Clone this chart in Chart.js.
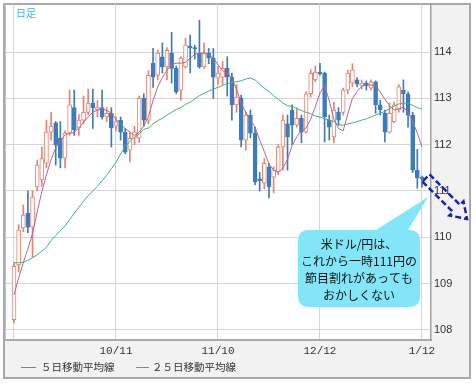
<!DOCTYPE html>
<html><head><meta charset="utf-8">
<script src="https://cdn.jsdelivr.net/npm/chart.js@4/dist/chart.umd.min.js"></script>
<style>html,body{margin:0;padding:0;background:#fff}canvas{display:block}</style>
</head><body>
<canvas id="c" width="476" height="386"></canvas>
<script>
// ---- data (USD/JPY daily) ----
const tickIndex  = [0, 22, 44, 66, 88];
const tickLabels = ['', '10/11', '11/10', '12/12', '1/12'];
const yTicks = [108, 109, 110, 111, 112, 113, 114];

const opens = [108.22,109.40,110.20,110.52,110.22,111.09,111.24,111.60,112.27,112.47,
112.14,111.71,112.25,112.80,112.36,112.53,112.70,112.90,112.75,112.80,
112.60,112.68,112.40,112.53,112.27,111.88,112.14,112.14,113.00,112.53,
113.76,113.50,113.90,113.68,113.98,113.65,113.18,113.68,114.13,114.10,
113.98,113.68,113.98,113.87,113.44,113.46,113.65,113.46,112.86,113.00,
112.10,112.64,112.25,111.26,111.17,111.52,111.30,111.41,111.95,112.45,
112.75,112.42,112.57,112.27,113.10,113.40,113.57,113.55,112.53,112.17,
112.70,112.70,113.18,113.33,113.40,113.27,113.33,113.22,113.36,112.86,
112.68,112.27,112.50,112.75,113.18,113.10,112.64,111.45,111.30];
const highs = [109.45,110.27,110.70,111.00,111.00,111.67,111.95,112.53,112.70,112.50,
112.50,112.30,113.18,113.18,112.65,113.05,113.20,113.20,112.95,113.18,
112.80,112.80,112.60,112.60,112.35,112.27,112.40,113.05,113.10,113.60,
114.08,114.05,114.20,114.10,114.43,113.70,113.90,114.30,114.37,114.15,
114.69,114.20,114.08,114.08,113.70,113.80,113.90,113.55,113.30,113.07,
112.70,112.75,112.38,111.40,111.70,111.60,111.52,112.00,112.64,112.64,
112.86,112.80,112.64,113.14,113.62,113.70,113.76,113.57,112.64,112.92,
112.80,113.22,113.61,113.75,113.45,113.40,113.38,113.40,113.38,112.96,
112.75,112.90,112.92,113.30,113.40,113.14,112.70,111.90,111.32];
const lows = [108.15,109.25,110.12,110.10,109.57,111.00,111.10,111.50,112.10,111.56,
111.50,111.50,112.20,112.20,112.20,112.45,112.65,112.35,112.60,112.55,
112.50,111.95,112.30,112.10,111.80,111.63,112.00,112.05,112.40,112.45,
113.24,113.40,113.55,113.40,113.33,113.10,112.96,113.65,113.55,113.85,
113.65,113.65,113.75,113.00,113.30,113.30,113.05,112.53,112.70,111.95,
111.88,112.15,111.13,111.00,111.05,110.85,110.96,111.35,111.45,111.45,
112.00,112.38,112.04,112.25,113.03,113.36,113.50,112.06,112.10,112.04,
112.42,112.64,113.10,113.25,113.25,113.20,113.18,113.18,112.68,112.64,
112.06,112.25,112.47,112.70,112.70,112.38,111.40,111.06,111.08];
const closes = [109.37,110.16,110.48,110.22,110.87,111.56,111.70,112.27,112.40,112.00,
111.71,112.25,112.86,112.32,112.53,112.70,112.90,112.80,112.80,112.60,
112.68,112.36,112.50,112.27,111.84,112.14,112.27,113.00,112.53,113.50,
113.46,113.98,113.68,114.04,113.65,113.14,113.87,114.15,114.09,114.07,
113.68,113.98,113.87,113.46,113.55,113.65,113.46,112.86,113.03,112.10,
112.64,112.25,111.20,111.22,111.60,111.09,111.45,111.95,112.53,112.17,
112.42,112.57,112.27,113.10,113.55,113.57,113.53,112.60,112.38,112.75,
112.53,113.18,113.55,113.61,113.31,113.33,113.27,113.36,112.86,112.75,
112.27,112.68,112.86,113.25,113.10,112.64,111.45,111.28,111.26];
const ma5 = [108.75,109.12,109.45,109.75,110.08,110.55,110.98,111.35,111.68,111.93,
112.08,112.21,112.25,112.26,112.37,112.48,112.60,112.70,112.75,112.78,
112.74,112.68,112.55,112.45,112.35,112.27,112.20,112.27,112.40,112.60,
112.96,113.25,113.45,113.61,113.73,113.76,113.76,113.78,113.87,113.95,
113.98,113.98,113.95,113.87,113.73,113.60,113.55,113.43,113.20,112.90,
112.70,112.53,112.38,112.10,111.85,111.58,111.45,111.40,111.50,111.68,
111.98,112.17,112.30,112.36,112.55,112.82,113.12,113.28,112.95,112.55,
112.35,112.30,112.66,113.00,113.15,113.26,113.29,113.29,113.28,113.14,
112.98,112.85,112.75,112.78,112.81,112.70,112.50,112.25,111.95];
const ma25 = [109.45,109.45,109.46,109.50,109.56,109.62,109.70,109.78,109.93,110.04,
110.14,110.24,110.38,110.52,110.65,110.78,110.90,111.00,111.10,111.22,
111.34,111.48,111.62,111.80,111.96,112.07,112.17,112.23,112.33,112.36,
112.45,112.52,112.57,112.64,112.70,112.76,112.80,112.87,112.92,112.99,
113.06,113.11,113.16,113.20,113.24,113.28,113.32,113.34,113.36,113.38,
113.42,113.44,113.40,113.31,113.22,113.15,113.06,112.98,112.90,112.84,
112.83,112.78,112.74,112.70,112.67,112.62,112.60,112.56,112.53,112.50,
112.43,112.42,112.45,112.47,112.50,112.53,112.56,112.60,112.64,112.68,
112.72,112.78,112.83,112.88,112.90,112.90,112.85,112.80,112.77];
const legendLabels = ['５日移動平均線', '２５日移動平均線'];
const calloutLines = ['米ドル/円は、', 'これから一時111円の', '節目割れがあっても', 'おかしくない'];
const cornerLabel = '日足';

// ---- styles ----
const UP = '#e8836f', DOWN = '#3d7cbc', MA5C = '#b9658f', MA25C = '#3fb57a';
const JP = '"Noto Sans CJK JP", sans-serif';

const isUp = opens.map((o, i) => closes[i] >= o);
const wickData = highs.map((h, i) => ({x: i, y: [lows[i], h]}));
const bodyData = opens.map((o, i) => ({x: i, y: [Math.min(o, closes[i]), Math.max(o, closes[i])]}));

const framePlugin = {
  id: 'frame',
  beforeDraw(chart) {
    const ctx = chart.ctx, a = chart.chartArea;
    ctx.save();
    ctx.fillStyle = '#ffffff'; ctx.fillRect(0, 0, chart.width, chart.height);
    ctx.fillStyle = '#f2f2f2'; ctx.fillRect(4, 4, 466, 374);
    ctx.fillStyle = '#ffffff'; ctx.fillRect(a.left, a.top, a.right - a.left, a.bottom - a.top);
    ctx.strokeStyle = '#a9a9a9'; ctx.lineWidth = 2;
    ctx.strokeRect(4, 4, 466, 374);
    ctx.restore();
  },
  afterDraw(chart) {
    const ctx = chart.ctx, a = chart.chartArea;
    ctx.save();
    ctx.strokeStyle = '#c4c4c4'; ctx.lineWidth = 1;
    ctx.beginPath(); ctx.moveTo(a.left + 0.5, a.top); ctx.lineTo(a.left + 0.5, a.bottom); ctx.stroke();
    ctx.fillStyle = '#3cb2e6'; ctx.font = '10px ' + JP; ctx.textBaseline = 'middle'; ctx.textAlign = 'left';
    ctx.fillText(cornerLabel, 16, 13);
    const ly = 367;
    ctx.font = '10.5px ' + JP; ctx.fillStyle = '#333';
    ctx.lineWidth = 1;
    ctx.strokeStyle = MA5C; ctx.beginPath(); ctx.moveTo(21, ly + 0.5); ctx.lineTo(36, ly + 0.5); ctx.stroke();
    ctx.fillText(legendLabels[0], 41, ly);
    ctx.strokeStyle = MA25C; ctx.beginPath(); ctx.moveTo(136, ly + 0.5); ctx.lineTo(149, ly + 0.5); ctx.stroke();
    ctx.fillText(legendLabels[1], 152, ly);
    ctx.fillStyle = '#82e5f8';
    const bx = 298, by = 230, bw = 122, bh = 77, r = 11;
    ctx.beginPath();
    ctx.moveTo(bx + r, by);
    ctx.lineTo(376, by); ctx.lineTo(428, 197); ctx.lineTo(408, by);
    ctx.lineTo(bx + bw - r, by);
    ctx.quadraticCurveTo(bx + bw, by, bx + bw, by + r);
    ctx.lineTo(bx + bw, by + bh - r);
    ctx.quadraticCurveTo(bx + bw, by + bh, bx + bw - r, by + bh);
    ctx.lineTo(bx + r, by + bh);
    ctx.quadraticCurveTo(bx, by + bh, bx, by + bh - r);
    ctx.lineTo(bx, by + r);
    ctx.quadraticCurveTo(bx, by, bx + r, by);
    ctx.closePath(); ctx.fill();
    ctx.fillStyle = '#111'; ctx.font = '12px ' + JP; ctx.textAlign = 'center'; ctx.textBaseline = 'middle';
    calloutLines.forEach((t, i) => ctx.fillText(t, 359, 244 + i * 17));
    const sx = 426, sy = 178, tx = 467, ty = 219;
    const L = Math.hypot(tx - sx, ty - sy), ux = (tx - sx) / L, uy = (ty - sy) / L, nx = -uy, ny = ux;
    const sw = 5, hw = 10, hl = 15;
    const bxp = sx + ux * (L - hl), byp = sy + uy * (L - hl);
    const P = [[sx + nx * sw, sy + ny * sw], [bxp + nx * sw, byp + ny * sw], [bxp + nx * hw, byp + ny * hw], [tx, ty],
               [bxp - nx * hw, byp - ny * hw], [bxp - nx * sw, byp - ny * sw], [sx - nx * sw, sy - ny * sw]];
    ctx.strokeStyle = '#1a22b0'; ctx.lineWidth = 2.5; ctx.setLineDash([6, 3]);
    ctx.beginPath(); P.forEach((p, i) => i ? ctx.lineTo(p[0], p[1]) : ctx.moveTo(p[0], p[1])); ctx.closePath(); ctx.stroke();
    ctx.restore();
  }
};

new Chart(document.getElementById('c'), {
  type: 'bar',
  data: {
    datasets: [
      {type: 'line', label: legendLabels[0], data: ma5.map((v, i) => ({x: i, y: v})), borderColor: MA5C, borderWidth: 1, pointRadius: 0, tension: 0, order: 0},
      {type: 'line', label: legendLabels[1], data: ma25.map((v, i) => ({x: i, y: v})), borderColor: MA25C, borderWidth: 1, pointRadius: 0, tension: 0, order: 0},
      {label: 'body', data: bodyData, grouped: false, barThickness: 4, minBarLength: 1, borderSkipped: false, borderWidth: 1,
        backgroundColor: isUp.map(u => u ? '#ffffff' : DOWN), borderColor: isUp.map(u => u ? UP : DOWN), order: 1},
      {label: 'wick', data: wickData, grouped: false, barThickness: 1, borderWidth: 0,
        backgroundColor: isUp.map(u => u ? UP : DOWN), order: 2}
    ]
  },
  options: {
    responsive: false, animation: false, devicePixelRatio: 1,
    layout: {padding: {left: 5, top: 4, right: 6, bottom: 8}},
    plugins: {legend: {display: false}, tooltip: {enabled: false}},
    scales: {
      x: {
        type: 'linear', min: -1.94, max: 89.95, position: 'bottom', offset: false,
        afterBuildTicks: s => { s.ticks = tickIndex.map(v => ({value: v})); },
        afterFit: s => { s.height = 38; s.paddingLeft = 0; s.paddingRight = 0; },
        ticks: {autoSkip: false, maxRotation: 0, padding: 4, color: '#333', font: {family: '"Liberation Mono", monospace', size: 11},
          callback: (v) => { const k = tickIndex.indexOf(v); return k >= 0 ? tickLabels[k] : ''; }},
        grid: {color: '#d6d6d6', lineWidth: 1, drawTicks: false, offset: false},
        border: {color: '#aaaaaa', width: 2}
      },
      y: {
        position: 'right', min: 107.78, max: 115.04,
        afterBuildTicks: s => { s.ticks = yTicks.map(v => ({value: v})); },
        afterFit: s => { s.width = 39; s.paddingTop = 0; s.paddingBottom = 0; },
        ticks: {padding: 3, color: '#333', font: {family: '"Liberation Sans", sans-serif', size: 11}},
        grid: {color: '#d6d6d6', lineWidth: 1, drawTicks: false},
        border: {color: '#a0a0a0', width: 1.5}
      }
    }
  },
  plugins: [framePlugin]
});
</script>
</body></html>
